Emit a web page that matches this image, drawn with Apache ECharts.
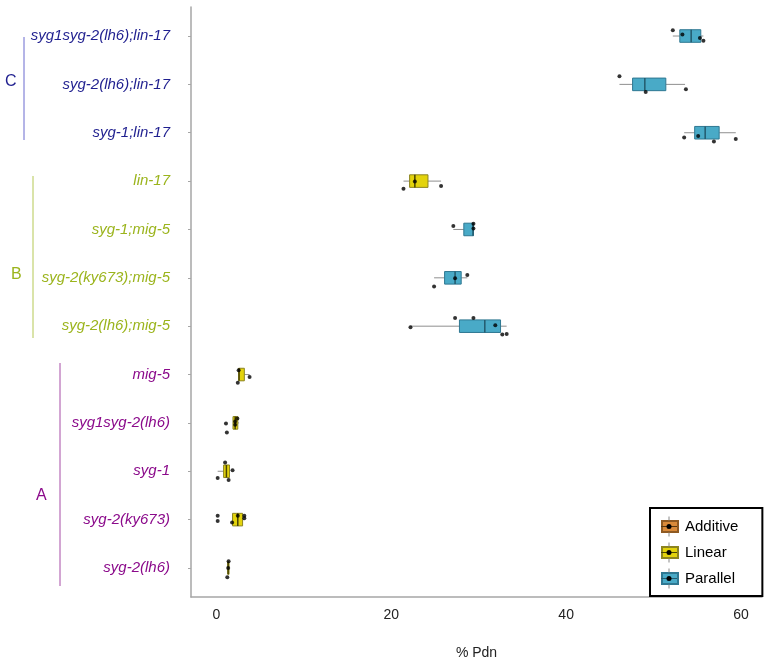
<!DOCTYPE html>
<html>
<head>
<meta charset="utf-8">
<script src="https://cdn.jsdelivr.net/npm/echarts@6/dist/echarts.min.js"></script>
<style>html,body{margin:0;padding:0;background:#fff}#c{width:768px;height:661px}</style>
</head>
<body>
<div id="c"></div>
<script>
// ---- data ----
const categories = [
  'syg1syg-2(lh6);lin-17', 'syg-2(lh6);lin-17', 'syg-1;lin-17',
  'lin-17', 'syg-1;mig-5', 'syg-2(ky673);mig-5', 'syg-2(lh6);mig-5',
  'mig-5', 'syg1syg-2(lh6)', 'syg-1', 'syg-2(ky673)', 'syg-2(lh6)'
];
const groupOf = ['C','C','C','B','B','B','B','A','A','A','A','A'];
const modelOf = ['Parallel','Parallel','Parallel','Linear','Parallel','Parallel','Parallel','Linear','Linear','Linear','Linear','Linear'];
// [lower whisker, Q1, median, Q3, upper whisker]
const boxStats = [
  [52.2, 53.0, 54.3, 55.4, 55.7],
  [46.1, 47.6, 49.0, 51.4, 53.6],
  [53.5, 54.7, 55.9, 57.5, 59.4],
  [21.4, 22.1, 22.7, 24.2, 25.7],
  [27.1, 28.3, 29.35, 29.4, 29.4],
  [24.9, 26.1, 27.3, 28.0, 28.7],
  [22.2, 27.8, 30.7, 32.5, 33.2],
  [2.5, 2.55, 2.6, 3.2, 3.8],
  [1.9, 1.9, 2.15, 2.45, 2.6],
  [0.15, 0.83, 1.15, 1.5, 1.5],
  [1.8, 1.85, 2.45, 3.0, 3.2],
  [1.25, 1.3, 1.35, 1.45, 1.45]
];
// individual observations (% Pdn) and their vertical jitter (category units)
const pointValues = [
  [52.2, 53.3, 55.3, 55.7],
  [46.1, 49.1, 53.7],
  [53.5, 55.1, 56.9, 59.4],
  [21.4, 22.7, 25.7],
  [27.1, 29.4, 29.4],
  [24.9, 27.3, 28.7],
  [22.2, 27.3, 29.4, 31.9, 32.7, 33.2],
  [2.55, 2.45, 3.8],
  [1.1, 1.2, 2.4, 2.15, 2.15],
  [1.0, 0.15, 1.85, 1.4],
  [0.15, 0.15, 1.8, 2.45, 3.2, 3.2],
  [1.4, 1.35, 1.25]
];
const pointJitter = [
  [-0.12, -0.03, 0.04, 0.10],
  [-0.17, 0.16, 0.10],
  [0.10, 0.07, 0.18, 0.13],
  [0.16, 0.01, 0.10],
  [-0.07, -0.12, -0.02],
  [0.18, 0.01, -0.06],
  [0.02, -0.17, -0.17, -0.02, 0.17, 0.16],
  [-0.09, 0.17, 0.05],
  [0.01, 0.20, -0.09, -0.03, 0.04],
  [-0.18, 0.14, -0.02, 0.18],
  [-0.08, 0.03, 0.06, -0.08, -0.08, -0.03],
  [-0.14, 0.0, 0.19]
];
const xTicks = [0, 20, 40, 60];
const legendNames = ['Additive', 'Linear', 'Parallel'];

// ---- styles ----
const FONT = "'Liberation Sans', Arial, sans-serif";
const groupColor = {C: '#1f1f8f', B: '#9bb41c', A: '#8b0a8b'};
const modelStyle = {
  Additive: {fill: '#d98a3a', border: '#8f5a22', median: '#5a3810'},
  Linear:   {fill: '#e3d30c', border: '#8c8420', median: '#4a4500'},
  Parallel: {fill: '#49aac7', border: '#2f7892', median: '#235a6d'}
};
const BOX_HALF = 0.13;

function boxData(model) {
  const out = [];
  boxStats.forEach((s, i) => { if (modelOf[i] === model) out.push([i].concat(s)); });
  return out;
}

function renderBox(params, api) {
  const y = api.value(0);
  const st = modelStyle[params.seriesName];
  const p = k => api.coord([api.value(k), y]);
  const lo = p(1), q1 = p(2), md = p(3), q3 = p(4), hi = p(5);
  const top = api.coord([api.value(2), y - BOX_HALF])[1];
  const bot = api.coord([api.value(2), y + BOX_HALF])[1];
  const cy = lo[1];
  const w = {stroke: '#8f8f8f', lineWidth: 1};
  return {
    type: 'group',
    children: [
      {type: 'line', shape: {x1: lo[0], y1: cy, x2: q1[0], y2: cy}, style: w},
      {type: 'line', shape: {x1: q3[0], y1: cy, x2: hi[0], y2: cy}, style: w},
      {type: 'rect', shape: {x: q1[0], y: top, width: Math.max(q3[0] - q1[0], 1), height: bot - top},
        style: {fill: st.fill, stroke: st.border, lineWidth: 1}},
      {type: 'line', shape: {x1: md[0], y1: top, x2: md[0], y2: bot},
        style: {stroke: st.median, lineWidth: 1.5}}
    ]
  };
}

const points = [];
pointValues.forEach((arr, i) => arr.forEach((v, j) => points.push([v, i + pointJitter[i][j]])));

const rich = {};
['C','B','A'].forEach(g => { rich[g] = {color: groupColor[g], fontStyle: 'italic', fontSize: 15, fontFamily: FONT}; });

const chart = echarts.init(document.getElementById('c'), null, {renderer: 'canvas'});

// legend glyph overlays
const legendGlyphs = [];
legendNames.forEach((n, k) => {
  const cx = 669, cy = 526.5 + 26 * k;
  legendGlyphs.push(
    {type: 'line', z: 100, shape: {x1: cx, y1: cy - 10, x2: cx, y2: cy - 6}, style: {stroke: '#888', lineWidth: 1}},
    {type: 'line', z: 100, shape: {x1: cx, y1: cy + 6, x2: cx, y2: cy + 10}, style: {stroke: '#888', lineWidth: 1}},
    {type: 'line', z: 100, shape: {x1: cx - 8, y1: cy, x2: cx + 8, y2: cy}, style: {stroke: modelStyle[n].median, lineWidth: 1}},
    {type: 'circle', z: 101, shape: {cx: cx, cy: cy, r: 2.5}, style: {fill: '#000'}}
  );
});

const option = {
  animation: false,
  backgroundColor: '#fff',
  textStyle: {fontFamily: FONT},
  grid: {left: 191, right: 6, top: 7, bottom: 64, containLabel: false, outerBoundsMode: 'none'},
  xAxis: {
    type: 'value', min: -2.9, max: 62.4,
    name: '% Pdn', nameLocation: 'middle', nameGap: 49,
    nameTextStyle: {fontSize: 14, color: '#222', fontFamily: FONT},
    axisLine: {show: true, onZero: false, lineStyle: {color: '#a6a6a6', width: 1.5}},
    axisTick: {show: false},
    splitLine: {show: false},
    axisLabel: {customValues: xTicks, fontSize: 14, color: '#222', margin: 11, fontFamily: FONT}
  },
  yAxis: {
    type: 'value', min: -0.6, max: 11.6, inverse: true,
    axisLine: {show: true, onZero: false, lineStyle: {color: '#a6a6a6', width: 1.5}},
    axisTick: {show: true, customValues: categories.map((c, i) => i), length: 3, lineStyle: {color: '#a6a6a6'}},
    splitLine: {show: false},
    axisLabel: {
      customValues: categories.map((c, i) => i),
      margin: 21, align: 'right',
      formatter: v => '{' + groupOf[v] + '|' + categories[v] + '}',
      rich: rich
    }
  },
  legend: {
    orient: 'vertical', left: 650, top: 508,
    padding: [11, 24, 10, 11],
    itemWidth: 16, itemHeight: 11, itemGap: 11, icon: 'rect',
    borderColor: '#000', borderWidth: 2, backgroundColor: '#fff',
    data: legendNames,
    textStyle: {fontSize: 15, color: '#000', fontFamily: FONT, padding: [0, 0, 0, 2]},
    selectedMode: false
  },
  graphic: [
    {type: 'text', left: 5, top: 74, style: {text: 'C', fontSize: 16, fill: groupColor.C, fontFamily: FONT}},
    {type: 'line', shape: {x1: 24, y1: 37, x2: 24, y2: 140}, style: {stroke: '#6a6acf', lineWidth: 1}},
    {type: 'text', left: 11, top: 267, style: {text: 'B', fontSize: 16, fill: groupColor.B, fontFamily: FONT}},
    {type: 'line', shape: {x1: 33, y1: 176, x2: 33, y2: 338}, style: {stroke: '#b5c855', lineWidth: 1}},
    {type: 'text', left: 36, top: 488, style: {text: 'A', fontSize: 16, fill: groupColor.A, fontFamily: FONT}},
    {type: 'line', shape: {x1: 60, y1: 363, x2: 60, y2: 586}, style: {stroke: '#a64ca6', lineWidth: 1}}
  ].concat(legendGlyphs),
  series: [
    {name: 'Additive', type: 'custom', renderItem: renderBox, data: boxData('Additive'),
      encode: {x: [1,2,3,4,5], y: 0},
      itemStyle: {color: modelStyle.Additive.fill, borderColor: modelStyle.Additive.border, borderWidth: 1}},
    {name: 'Linear', type: 'custom', renderItem: renderBox, data: boxData('Linear'),
      encode: {x: [1,2,3,4,5], y: 0},
      itemStyle: {color: modelStyle.Linear.fill, borderColor: modelStyle.Linear.border, borderWidth: 1}},
    {name: 'Parallel', type: 'custom', renderItem: renderBox, data: boxData('Parallel'),
      encode: {x: [1,2,3,4,5], y: 0},
      itemStyle: {color: modelStyle.Parallel.fill, borderColor: modelStyle.Parallel.border, borderWidth: 1}},
    {name: 'obs', type: 'scatter', data: points, symbolSize: 4, z: 10,
      itemStyle: {color: '#000'}, silent: true}
  ]
};
chart.setOption(option);
</script>
</body>
</html>
